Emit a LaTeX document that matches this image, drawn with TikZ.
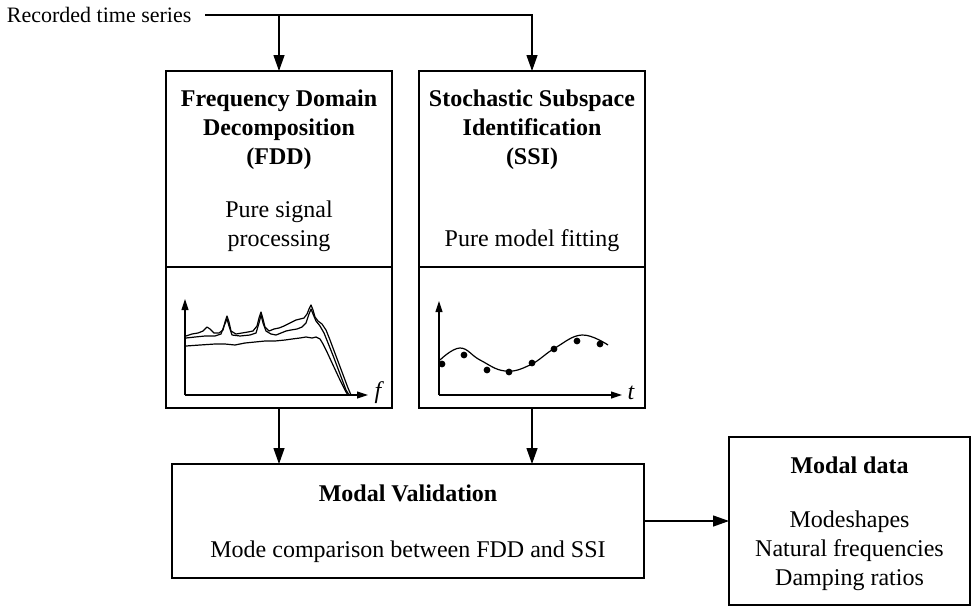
\documentclass[tikz,border=0pt]{standalone}
\usepackage{fontspec}
\setmainfont{Liberation Serif}
\usetikzlibrary{positioning,arrows.meta}

\begin{document}
\begin{tikzpicture}[>={Triangle[length=8pt,width=5.5pt]}, x=0.5pt, y=-0.5pt, line width=0.65pt,
        font=\fontsize{12pt}{14.5pt}\selectfont]
            \tikzstyle{box} = [rectangle, draw, minimum width=113pt, outer sep=0pt, inner sep=0pt]
            \tikzstyle{txt} = [align=center, inner sep=0pt]
            \tikzstyle{title} = [txt, font=\fontsize{12pt}{14.5pt}\selectfont\bfseries]
            \tikzstyle{axis} = [-{Triangle[length=5.5pt,width=3.5pt]}, line width=0.55pt]
            \tikzstyle{trace} = [line width=0.6pt, line join=round]

            \useasboundingbox (0,0) rectangle (972,605);

            % Nodes
            \node[box, minimum height=98pt] (FDD) at (279,169) {};
            \node[box, minimum height=70.5pt, below=0pt of FDD] (FDDplot) {};
            \node[box, minimum height=98pt, right=13.5pt of FDD] (SSI) {};
            \node[box, minimum height=70.5pt, below=0pt of SSI] (SSIplot) {};
            \node[box, minimum width=236pt, minimum height=57pt] (MV) at (408,521) {};
            \node[box, minimum width=120.5pt, minimum height=84pt] (MD) at (849.5,521) {};

            \node[title, below=9pt of FDD.north] (FDDname) {Frequency Domain\\Decomposition\\(FDD)};
            \node[txt, above=7.4pt of FDD.south] (FDDnote) {Pure signal\\processing};
            \node[title, below=9pt of SSI.north] (SSIname) {Stochastic Subspace\\Identification\\(SSI)};
            \node[txt, above=7.4pt of SSI.south] (SSInote) {Pure model fitting};
            \node[title, below=10pt of MV.north] (MVname) {Modal Validation};
            \node[txt, above=7.4pt of MV.south] (MVnote) {Mode comparison between FDD and SSI};
            \node[title, below=9.5pt of MD.north] (MDname) {Modal data};
            \node[txt, above=7pt of MD.south] (MDnote) {Modeshapes\\Natural frequencies\\Damping ratios};
            \node[txt, inner xsep=6.5pt, anchor=east, font=\fontsize{11pt}{13pt}\selectfont] (rec) at (205,15) {Recorded time series};

            % Edges
            \coordinate (split) at (FDD.north |- rec.east);
            \draw[->] (rec.east) -| (SSI.north);
            \draw[->] (split) -- (FDD.north);
            \draw[->] (FDDplot.south) -- (FDDplot.south |- MV.north);
            \draw[->] (SSIplot.south) -- (SSIplot.south |- MV.north);
            \draw[->] (MV.east) -- (MD.west);

            % FDD spectrum
            \draw[axis] (185,395) -- (185,299);
            \draw[axis] (185,395) -- (368,395);
            \node[txt, font=\fontsize{12pt}{14.5pt}\selectfont\itshape] (faxis) at (378,393) {f};
            \draw[trace] plot coordinates {(186,336) (192,334) (198,333) (203,331) (207,327) (210,329) (214,333) (219,333) (223,330) (225,322) (227,316) (229,322) (231,331) (236,334) (242,333) (248,332) (253,331) (257,326) (259,318) (261,312) (263,319) (265,327) (269,331) (274,329) (279,328) (284,326) (288,324) (292,322) (296,320) (300,319) (304,318) (307,314) (309,309) (311,305) (313,310) (315,317) (318,321) (322,324) (326,330) (330,340) (336,356) (342,372) (348,388) (351,395)};
            \draw[trace] plot coordinates {(186,338) (195,337) (205,336) (215,336) (221,334) (224,326) (227,319) (229,326) (232,335) (240,336) (250,335) (256,333) (259,323) (261,315) (263,323) (266,331) (271,334) (276,335) (281,333) (286,331) (291,330) (297,329) (302,327) (306,323) (309,314) (311,309) (313,314) (316,321) (320,326) (324,333) (328,343) (334,358) (340,374) (346,390) (349,395)};
            \draw[trace] plot coordinates {(186,346) (200,345) (215,344) (225,344) (235,345) (245,343) (255,342) (265,341) (275,341) (285,340) (292,339) (300,338) (306,337) (312,338) (316,337) (320,339) (323,344) (327,352) (333,365) (340,380) (346,392) (348,395)};

            % SSI fit
            \draw[axis] (439,395) -- (439,301);
            \draw[axis] (439,395) -- (622,395);
            \node[txt, font=\fontsize{12pt}{14.5pt}\selectfont\itshape] (taxis) at (631,393) {t};
            \draw[trace] plot[smooth, tension=0.7] coordinates {(440,360) (460,348) (480,360) (505,371) (530,365) (555,348) (582,335) (608,345)};
            \foreach \x/\y in {442/364, 464/355, 487/370, 509/372, 532/363, 554/349, 577/341, 600/344}
                \fill (\x,\y) circle[radius=1.7pt];

        \end{tikzpicture}
\end{document}
